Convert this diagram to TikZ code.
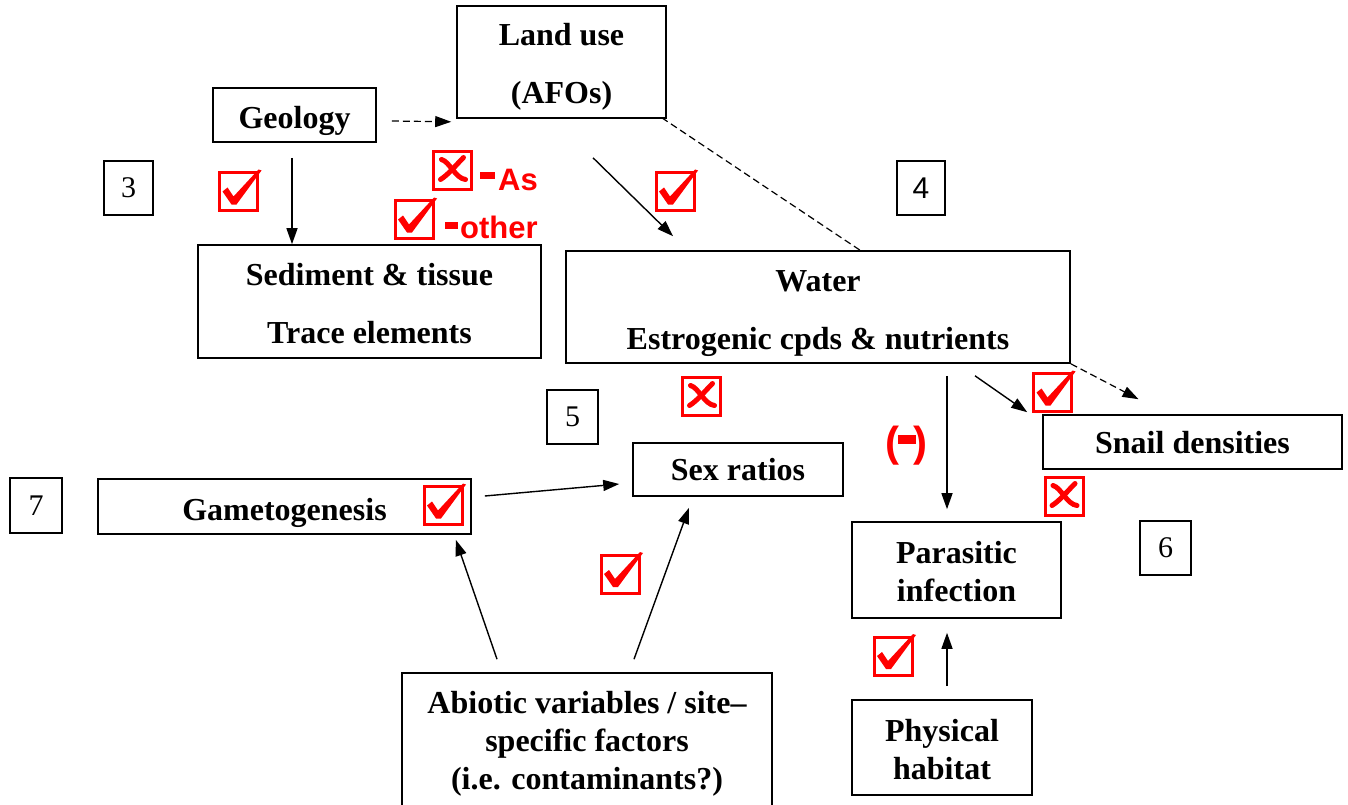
\documentclass[tikz,border=0pt]{standalone}
\usepackage{fontspec}
\setmainfont{Liberation Serif}
\newfontfamily\arialfont{Liberation Sans}
\usetikzlibrary{arrows.meta,calc}

\begin{document}
\begin{tikzpicture}[x=1pt,y=-1pt,
  box/.style={draw, line width=1.6pt, inner sep=0pt},
  txt/.style={align=center, inner sep=0pt,
    font=\bfseries\fontsize{32}{38}\selectfont},
  wide/.style={font=\bfseries\fontsize{32}{58}\selectfont},
  numbox/.style={draw, line width=1.4pt, inner sep=0pt,
    font=\fontsize{30}{36}\selectfont},
  arr/.style={-{Triangle[length=16pt,width=11pt]}, line width=1.4pt},
  dsh/.style={dash pattern=on 7pt off 4pt, line width=1.2pt},
  redlabel/.style={text=red, inner sep=0pt,
    font=\arialfont\bfseries\fontsize{31}{36}\selectfont},
  % red ticked box
  chk/.pic={
    \draw[red, line width=3pt] (-19,-19) rectangle (19,19);
    \fill[red] (-16,0) -- (-11,-4) -- (-5,5) -- (20,-22) -- (23,-21)
      -- (-2,13) -- (-7,13) -- cycle;
  },
  % red crossed box
  xmk/.pic={
    \draw[red, line width=3pt] (-19,-19) rectangle (19,19);
    \draw[red, line width=5pt, line cap=round]
      (-11,-11) .. controls (-3,-9) and (3,8) .. (13,9);
    \draw[red, line width=5pt, line cap=round]
      (11,-13) .. controls (4,-6) and (-4,4) .. (-12,9);
  }
]
\path[use as bounding box, clip] (0,0) rectangle (1348,805);
\fill[white] (0,0) rectangle (1348,805);

% main boxes
\node[box, minimum width=209pt, minimum height=112pt] (landuse) at (561.5,62) {};
\node[box, minimum width=163pt, minimum height=54pt] (geology) at (294.5,115) {};
\node[box, minimum width=343pt, minimum height=113pt] (sediment) at (369.5,301.5) {};
\node[box, minimum width=504pt, minimum height=112pt] (water) at (818,307) {};
\node[box, minimum width=210pt, minimum height=53pt] (sexratio) at (738,469.5) {};
\node[box, minimum width=373pt, minimum height=55pt] (gameto) at (284.5,506.5) {};
\node[box, minimum width=299pt, minimum height=54pt] (snail) at (1192.5,442) {};
\node[box, minimum width=209pt, minimum height=96pt] (parasitic) at (956.5,570) {};
\node[box, minimum width=180pt, minimum height=95pt] (physical) at (942,747.5) {};
\node[box, minimum width=370pt, minimum height=135pt] (abiotic) at (587,740.5) {};

% box texts
\node[txt, wide] (landuse-t) at ($(landuse)+(0,5)$) {Land use\\(AFOs)};
\node[txt] (geology-t) at ($(geology)+(0,6)$) {Geology};
\node[txt, wide] (sediment-t) at ($(sediment)+(0,2)$) {Sediment \& tissue\\Trace elements};
\node[txt, wide] (water-t) at ($(water)+(0,7)$) {Water\\Estrogenic cpds \& nutrients};
\node[txt] (sexratio-t) at (sexratio) {Sex ratios};
\node[txt] (gameto-t) at ($(gameto)+(0,6)$) {Gametogenesis};
\node[txt] (snail-t) at ($(snail)+(0,1)$) {Snail densities};
\node[txt] (parasitic-t) at ($(parasitic)+(0,2)$) {Parasitic\\infection};
\node[txt] (physical-t) at ($(physical)+(0,2)$) {Physical\\habitat};
\node[txt] (abiotic-t) at ($(abiotic)+(0,3.5)$) {Abiotic variables / site–\\specific factors\\(i.e. contaminants?)};

% numbered boxes
\node[numbox, minimum width=49pt, minimum height=54pt] (n3) at (128.5,188) {3};
\node[numbox, minimum width=48pt, minimum height=54pt, font=\arialfont\fontsize{30}{36}\selectfont] (n4) at (921,188) {4};
\node[numbox, minimum width=51pt, minimum height=54pt] (n5) at (572.5,417) {5};
\node[numbox, minimum width=51pt, minimum height=54pt] (n6) at (1165.5,548) {6};
\node[numbox, minimum width=52pt, minimum height=55pt] (n7) at (36,505.5) {7};

% connectors
\draw[arr] ($(geology.south)+(-2.5,15)$) -- ($(sediment.north)+(-77.5,0)$);
\draw[arr, dsh] ($(geology.east)+(15,6)$) -- ($(landuse.south west)+(-5,3)$);
\draw[arr] ($(landuse.south)+(31.5,39)$) -- ($(water.north)+(-145,-14)$);
\draw[dsh] ($(landuse.south east)+(-5,-1)$) -- ($(water.north)+(42,0)$);
\draw[arr, dsh] (water.south east) -- ($(snail.north)+(-54,-15)$);
\draw[arr] ($(water.south)+(157,12)$) -- ($(snail.north west)+(-15,-2)$);
\draw[arr] ($(water.south)+(129,12)$) -- ($(parasitic.north)+(-9.5,-12)$);
\draw[arr] ($(gameto.east)+(13,-10.5)$) -- ($(sexratio.west)+(-13,14.5)$);
\draw[arr] ($(abiotic.north)+(-90,-13)$) -- ($(gameto.south east)+(-16,5)$);
\draw[arr] ($(abiotic.north)+(47,-13)$) -- ($(sexratio.south)+(-49,11)$);
\draw[arr] ($(physical.north)+(5,-13)$) -- ($(parasitic.south)+(-9.5,14)$);

% result marks
\pic at (238.5,191.5) {chk};
\pic at (452.5,170.5) {xmk};
\pic at (414,219.5) {chk};
\pic at (675,191.5) {chk};
\pic at (701.5,396.5) {xmk};
\pic at (1052.5,392.5) {chk};
\pic at (1064,496.5) {xmk};
\pic at (443,505.5) {chk};
\pic at (620,574) {chk};
\pic at (893,656) {chk};

% red labels
\node[redlabel, anchor=base west] (lblAs) at (480,190) {\rule[11pt]{15pt}{7pt}\hspace{3pt}As};
\node[redlabel, anchor=base west] (lblOther) at (445,238) {\rule[9pt]{13pt}{7pt}\hspace{2pt}other};
\node[redlabel, anchor=base, font=\arialfont\bfseries\fontsize{42}{48}\selectfont] (neg) at (906.5,456) {(\hspace{-2pt}\rule[12pt]{18pt}{9pt}\hspace{-2pt})};
\end{tikzpicture}
\end{document}
